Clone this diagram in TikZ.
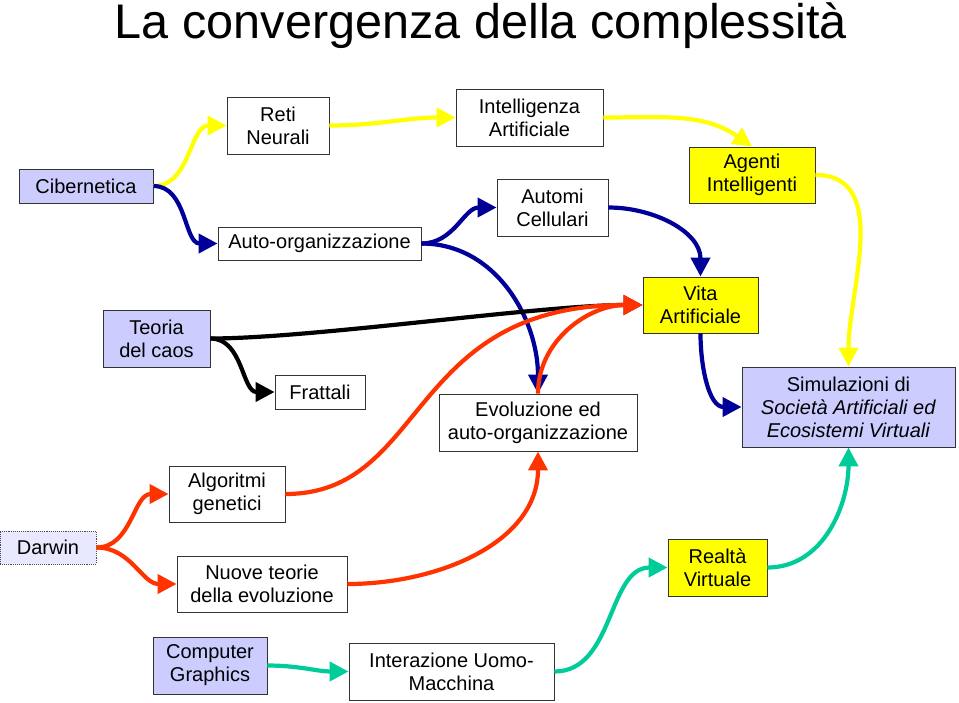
\documentclass[tikz,border=0pt]{standalone}
\usepackage{fontspec}
\setmainfont{Liberation Sans}
\usetikzlibrary{arrows.meta}

\definecolor{lavanda}{RGB}{204,204,255}
\definecolor{giallo}{RGB}{255,255,0}
\definecolor{blu}{RGB}{0,0,153}
\definecolor{rosso}{RGB}{255,51,0}
\definecolor{verde}{RGB}{0,204,153}

\begin{document}
\begin{tikzpicture}[x=1pt,y=-1pt,
    box/.style={draw=black!80, line width=0.9pt, align=center, inner sep=0pt,
        font=\fontsize{20}{23}\selectfont},
    freccia/.style={line width=4.2pt, -{Triangle[length=19pt,width=19pt]}},
    ]
    \useasboundingbox (0,0) rectangle (959,702);

    \node[anchor=base, font=\fontsize{48.6}{56}\selectfont] (titolo) at (481,38) {La convergenza della complessità};

    \node[box, fill=lavanda, minimum width=134pt, minimum height=34pt] (cib) at (86,186) {Cibernetica};
    \node[box, minimum width=102pt, minimum height=57pt] (reti) at (278,125.5) {Reti\\Neurali};
    \node[box, minimum width=203pt, minimum height=33pt] (autoorg) at (319.5,243.5) {Auto-organizzazione};
    \node[box, minimum width=147pt, minimum height=57pt] (ia) at (529.5,117.5) {Intelligenza\\Artificiale};
    \node[box, minimum width=111pt, minimum height=57pt] (automi) at (552.5,207.5) {Automi\\Cellulari};
    \node[box, fill=giallo, minimum width=126pt, minimum height=56pt] (agenti) at (752,175) {Agenti\\Intelligenti};

    \node[box, fill=lavanda, minimum width=107pt, minimum height=57pt] (caos) at (156.5,338.5) {Teoria\\del caos};
    \node[box, minimum width=90pt, minimum height=34pt] (frattali) at (320,392) {Frattali};
    \node[box, fill=giallo, minimum width=115pt, minimum height=56pt] (vita) at (700.5,305) {Vita\\Artificiale};
    \node[box, minimum width=198pt, minimum height=57pt] (evol) at (538,422.5) {Evoluzione ed\\auto-organizzazione};
    \node[box, fill=lavanda, minimum width=213pt, minimum height=80pt] (simul) at (848.5,407)
        {Simulazioni di\\\textit{Società Artificiali ed}\\\textit{Ecosistemi Virtuali}};

    \node[box, minimum width=116pt, minimum height=56pt] (algo) at (227,494) {Algoritmi\\genetici};
    \node[box, draw=black!70, densely dotted, fill=lavanda!45, minimum width=96pt, minimum height=33pt] (darwin) at (48,547.5) {Darwin};
    \node[box, minimum width=170pt, minimum height=56pt] (nuove) at (262,584) {Nuove teorie\\della evoluzione};
    \node[box, fill=giallo, minimum width=99pt, minimum height=57pt] (realta) at (717.5,567.5) {Realtà\\Virtuale};

    \node[box, fill=lavanda, minimum width=114pt, minimum height=57pt] (computer) at (210,665.5) {Computer\\Graphics};
    \node[box, minimum width=205pt, minimum height=57pt] (interaz) at (451.5,671.5) {Interazione Uomo-\\Macchina};

    \draw[freccia, giallo] (cib.east) to[out=0,in=180] (reti.west);
    \draw[freccia, giallo] (reti.east) to[out=0,in=180] (ia.west);
    \draw[freccia, giallo] (ia.east) to[out=0,in=145] (agenti.north);
    \draw[freccia, giallo] (agenti.east) to[out=0,in=90] (simul.north);

    \draw[freccia, blu] (cib.east) to[out=0,in=180] (autoorg.west);
    \draw[freccia, blu] (autoorg.east) to[out=0,in=180] (automi.west);
    \draw[freccia, blu] (autoorg.east) to[out=0,in=90] (evol.north);
    \draw[freccia, blu] (automi.east) to[out=0,in=90] (vita.north);
    \draw[freccia, blu] (vita.south) to[out=-90,in=180] (simul.west);

    \draw[freccia, black] (caos.east) to[out=0,in=180] (frattali.west);
    \draw[freccia, black] (caos.east) to[out=0,in=180, looseness=0.6] (vita.west);

    \draw[freccia, rosso] (darwin.east) to[out=0,in=180] (algo.west);
    \draw[freccia, rosso] (darwin.east) to[out=0,in=180] (nuove.west);
    \draw[freccia, rosso] (algo.east) to[out=0,in=180, out looseness=0.9, in looseness=1.5] (vita.west);
    \draw[freccia, rosso] (evol.north) to[out=90,in=180] (vita.west);
    \draw[freccia, rosso] (nuove.east) to[out=0,in=-90] (evol.south);

    \draw[freccia, verde] (computer.east) to[out=0,in=180] (interaz.west);
    \draw[freccia, verde] (interaz.east) to[out=0,in=180] (realta.west);
    \draw[freccia, verde] (realta.east) to[out=0,in=-90] (simul.south);

\end{tikzpicture}
\end{document}
